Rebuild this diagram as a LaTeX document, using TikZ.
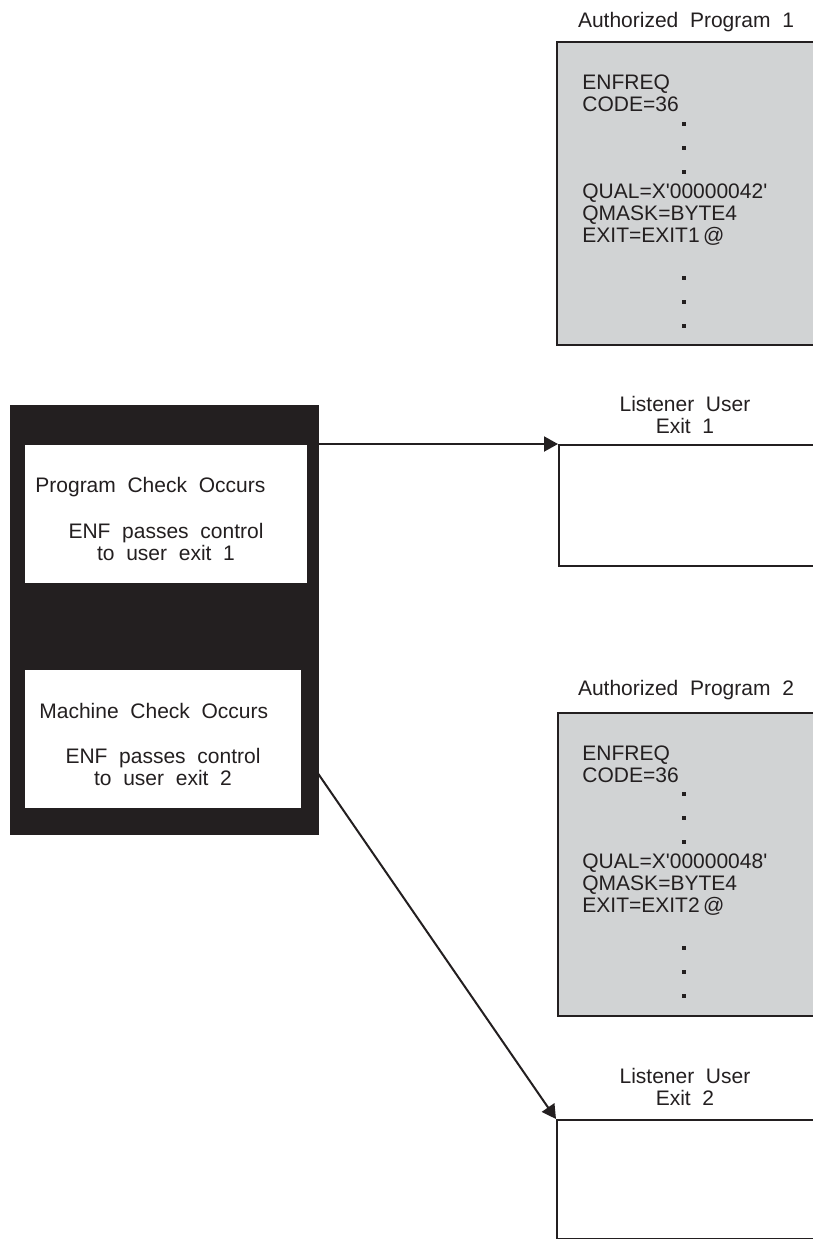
\documentclass[tikz,border=0pt]{standalone}
\usepackage{fontspec}
\setmainfont{Liberation Sans}[WordSpace=2]
\usetikzlibrary{arrows.meta}
\definecolor{ink}{HTML}{231F20}
\definecolor{panel}{HTML}{D1D3D4}

\begin{document}
\begin{tikzpicture}[x=0.5pt, y=-0.5pt, text=ink,
    font=\fontsize{10.5}{11}\selectfont,
    box/.style={draw=ink, line width=1.2pt, anchor=north west, inner sep=0pt},
    prog/.style={box, fill=panel, minimum width=137pt, minimum height=151.5pt},
    lis/.style={box, fill=white, minimum width=137pt, minimum height=60.5pt},
    inner/.style={box, draw=none, fill=white, minimum height=69pt},
    title/.style={anchor=base, align=center, inner sep=0pt},
    code/.style={anchor=base west, align=left, inner sep=0pt},
    lab/.style={anchor=base, align=center, inner sep=0pt},
    link/.style={draw=ink, line width=1pt, -{Triangle[length=7pt,width=7.5pt]}}]
    \useasboundingbox (0,0) rectangle (813,1239);
    \clip (0,0) rectangle (813,1239);
    \node[prog] (prog1) at (556,41) {};
    \node[title] (prog1t) at (686,27) {Authorized Program 1};
    \node[code] (p1a) at (582,111) {ENFREQ\\CODE=36};
    \node[code] (p1b) at (582,242) {QUAL=X\textquotesingle00000042\textquotesingle\\QMASK=BYTE4\\EXIT=EXIT1\,@};
    \node[prog] (prog2) at (557,712) {};
    \node[title] (prog2t) at (686,695) {Authorized Program 2};
    \node[code] (p2a) at (582,782) {ENFREQ\\CODE=36};
    \node[code] (p2b) at (582,912) {QUAL=X\textquotesingle00000048\textquotesingle\\QMASK=BYTE4\\EXIT=EXIT2\,@};
    \foreach \y in {124,148,172,278,302,326,794,818,842,948,972,996}
        \fill[ink] (682,\y-2) rectangle +(4,4);
    \node[box, fill=ink, minimum width=153.5pt, minimum height=214pt] (enf) at (10,405) {};
    \node[inner, minimum width=141pt] (pc) at (24,444) {};
    \node[inner, minimum width=138pt] (mc) at (24,669) {};
    \node[code] (pct) at (35,492) {Program Check Occurs};
    \node[lab] (pcx) at (166,560) {ENF passes control\\to user exit 1};
    \node[code] (mct) at (39,718) {Machine Check Occurs};
    \node[lab] (mcx) at (163,785) {ENF passes control\\to user exit 2};
    \node[lis] (lis1) at (558,444) {};
    \node[title] (lis1t) at (685,433) {Listener User\\Exit 1};
    \node[lis, minimum height=59.5pt] (lis2) at (556,1119) {};
    \node[title] (lis2t) at (685,1105) {Listener User\\Exit 2};
    \coordinate (mcout) at (317,772);
    \draw[link] (enf.east |- lis1.north west) -- (lis1.north west);
    \draw[link] (mcout) -- (lis2.north west);
\end{tikzpicture}
\end{document}
